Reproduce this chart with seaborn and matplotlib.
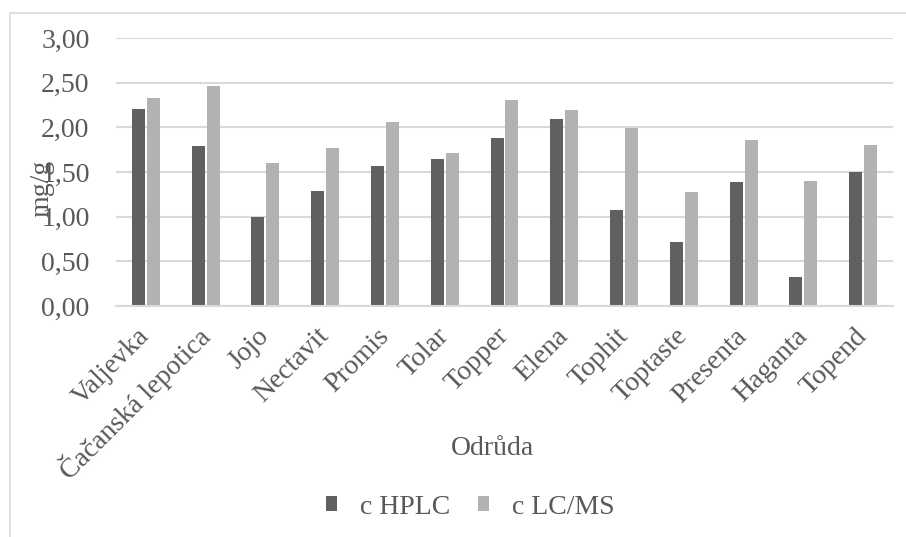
import matplotlib
matplotlib.use("Agg")
import matplotlib.pyplot as plt
from matplotlib.patches import Rectangle
import seaborn as sns
import pandas as pd

odrudy = ["Valjevka", "Čačanská lepotica", "Jojo", "Nectavit", "Promis", "Tolar",
          "Topper", "Elena", "Tophit", "Toptaste", "Presenta", "Haganta", "Topend"]
c_hplc = [2.20, 1.79, 1.00, 1.29, 1.57, 1.65, 1.88, 2.09, 1.08, 0.72, 1.39, 0.32, 1.50]
c_lcms = [2.33, 2.46, 1.60, 1.77, 2.06, 1.71, 2.31, 2.19, 1.99, 1.28, 1.86, 1.40, 1.80]
serie = ["c HPLC", "c LC/MS"]
y_ticks = [0.0, 0.5, 1.0, 1.5, 2.0, 2.5, 3.0]

df = pd.DataFrame({
    "Odrůda": odrudy * 2,
    "mg/g": c_hplc + c_lcms,
    "serie": [serie[0]] * len(odrudy) + [serie[1]] * len(odrudy),
})

sns.set_theme(style="white")
plt.rcParams["font.family"] = ["Liberation Serif", "DejaVu Serif"]
text_col = "#595959"
grid_col = "#d9d9d9"
fs = 20

W, H = 906, 537
fig = plt.figure(figsize=(W / 100, H / 100), dpi=100)
fig.patch.set_facecolor("white")

# outer chart frame
fig.patches.append(Rectangle((10 / W, -0.1), 1.2, (H - 13) / H + 0.1,
                             transform=fig.transFigure, fill=False,
                             edgecolor=grid_col, linewidth=1.2))

left, right, top, bottom = 116, 893, 38, 306
ax = fig.add_axes([left / W, (H - bottom) / H, (right - left) / W, (bottom - top) / H])

sns.barplot(data=df, x="Odrůda", y="mg/g", hue="serie", hue_order=serie,
            palette=["#606060", "#b2b2b2"], width=0.5, gap=0.13,
            saturation=1, edgecolor="none", ax=ax, legend=True)

ax.set_ylim(0, 3.0)
ax.set_xlim(-0.5, len(odrudy) - 0.5)
ax.set_yticks(y_ticks)
ax.set_yticklabels([f"{v:.2f}".replace(".", ",") for v in y_ticks])
ax.yaxis.grid(True, color=grid_col, linewidth=1.5)
ax.set_axisbelow(True)
for s in ["top", "right", "left"]:
    ax.spines[s].set_visible(False)
ax.spines["bottom"].set_color(grid_col)
ax.spines["bottom"].set_linewidth(1.5)
ax.tick_params(axis="both", length=0, colors=text_col, labelsize=fs)
ax.tick_params(axis="y", pad=19)
ax.tick_params(axis="x", pad=19)
for lab in ax.get_xticklabels():
    lab.set_rotation(45)
    lab.set_ha("right")
    lab.set_va("center")
    lab.set_rotation_mode("anchor")

ax.set_xlabel("Odrůda", color=text_col, fontsize=fs)
ax.xaxis.set_label_coords((493 - left) / (right - left), -(436 - bottom) / (bottom - top))
ax.set_ylabel("mg/g", color=text_col, fontsize=fs)
ax.yaxis.set_label_coords((54 - left) / (right - left), (bottom - 188) / (bottom - top))

leg = ax.legend(loc="center", bbox_to_anchor=(470 / W, (H - 507) / H),
                bbox_transform=fig.transFigure, ncol=2, frameon=False,
                fontsize=fs, handlelength=0.42, handleheight=0.42,
                handletextpad=0.8, columnspacing=1.0)
for t in leg.get_texts():
    t.set_color(text_col)

fig.savefig("out.png", dpi=100)
